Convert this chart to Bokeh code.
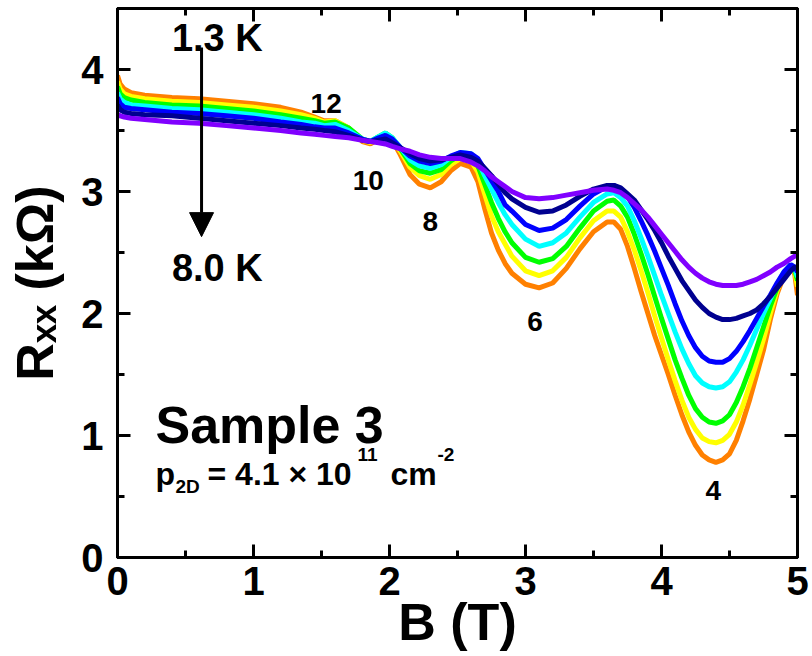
from bokeh.plotting import figure
from bokeh.models import Range1d, LinearAxis, SingleIntervalTicker, Label, Arrow, NormalHead
from bokeh.embed import file_html
from bokeh.resources import INLINE

# ---- data ----
B = [0, 0.02, 0.05, 0.1, 0.2, 0.4, 0.6, 0.8, 1.0, 1.2,
     1.35, 1.45, 1.52, 1.6, 1.7, 1.8, 1.86, 1.92, 1.97, 2.02,
     2.08, 2.15, 2.22, 2.3, 2.38, 2.45, 2.52, 2.6, 2.65, 2.7,
     2.75, 2.8, 2.85, 2.9, 3.0, 3.1, 3.2, 3.3, 3.4, 3.5,
     3.6, 3.65, 3.7, 3.75, 3.8, 3.85, 3.9, 3.95, 4.0, 4.05,
     4.1, 4.15, 4.2, 4.25, 4.3, 4.35, 4.4, 4.45, 4.5, 4.55,
     4.6, 4.65, 4.7, 4.75, 4.8, 4.85, 4.9, 4.95, 4.98, 5.0]

R_orange = [3.95, 3.88, 3.84, 3.81, 3.79, 3.77, 3.76, 3.74, 3.72, 3.69,
            3.65, 3.61, 3.58, 3.58, 3.52, 3.41, 3.39, 3.43, 3.46, 3.42,
            3.30, 3.14, 3.06, 3.03, 3.08, 3.17, 3.23, 3.20, 3.08, 2.86,
            2.66, 2.52, 2.41, 2.33, 2.24, 2.21, 2.25, 2.37, 2.53, 2.67,
            2.75, 2.75, 2.69, 2.55, 2.37, 2.18, 2.00, 1.82, 1.66, 1.50,
            1.33, 1.17, 1.03, 0.92, 0.84, 0.80, 0.78, 0.80, 0.85, 0.96,
            1.12, 1.30, 1.50, 1.70, 1.95, 2.16, 2.31, 2.40, 2.32, 2.15]

R_yellow = [3.90, 3.84, 3.80, 3.78, 3.76, 3.74, 3.73, 3.71, 3.69, 3.66,
            3.63, 3.60, 3.57, 3.58, 3.52, 3.42, 3.40, 3.44, 3.47, 3.43,
            3.33, 3.20, 3.13, 3.10, 3.14, 3.22, 3.27, 3.25, 3.16, 2.98,
            2.80, 2.67, 2.57, 2.47, 2.35, 2.31, 2.35, 2.46, 2.62, 2.76,
            2.84, 2.84, 2.79, 2.67, 2.52, 2.35, 2.17, 1.98, 1.80, 1.62,
            1.45, 1.29, 1.15, 1.05, 0.98, 0.95, 0.94, 0.96, 1.01, 1.11,
            1.25, 1.42, 1.60, 1.79, 2.00, 2.19, 2.32, 2.40, 2.34, 2.22]

R_green = [3.86, 3.80, 3.77, 3.75, 3.73, 3.71, 3.70, 3.68, 3.66, 3.63,
           3.60, 3.58, 3.56, 3.57, 3.52, 3.43, 3.41, 3.45, 3.48, 3.44,
           3.35, 3.23, 3.17, 3.15, 3.18, 3.25, 3.30, 3.28, 3.21, 3.06,
           2.91, 2.78, 2.67, 2.58, 2.46, 2.42, 2.45, 2.55, 2.70, 2.84,
           2.92, 2.93, 2.88, 2.79, 2.65, 2.49, 2.32, 2.14, 1.96, 1.79,
           1.62, 1.47, 1.33, 1.22, 1.15, 1.11, 1.10, 1.12, 1.17, 1.27,
           1.40, 1.55, 1.72, 1.89, 2.06, 2.21, 2.33, 2.40, 2.36, 2.27]

R_cyan = [3.81, 3.76, 3.73, 3.71, 3.70, 3.68, 3.67, 3.65, 3.63, 3.60,
          3.57, 3.56, 3.54, 3.55, 3.50, 3.43, 3.41, 3.45, 3.48, 3.44,
          3.36, 3.26, 3.21, 3.19, 3.22, 3.28, 3.32, 3.31, 3.25, 3.13,
          3.02, 2.91, 2.81, 2.73, 2.61, 2.55, 2.58, 2.66, 2.79, 2.91,
          2.98, 2.99, 2.95, 2.88, 2.76, 2.62, 2.47, 2.31, 2.15, 2.00,
          1.85, 1.71, 1.59, 1.49, 1.43, 1.40, 1.39, 1.40, 1.44, 1.52,
          1.62, 1.74, 1.87, 2.00, 2.12, 2.24, 2.34, 2.40, 2.37, 2.30]

R_blue = [3.77, 3.72, 3.69, 3.68, 3.67, 3.65, 3.64, 3.62, 3.60, 3.57,
          3.55, 3.53, 3.52, 3.52, 3.48, 3.43, 3.41, 3.44, 3.46, 3.43,
          3.36, 3.29, 3.25, 3.23, 3.25, 3.29, 3.32, 3.31, 3.27, 3.18,
          3.09, 3.00, 2.89, 2.84, 2.73, 2.68, 2.70, 2.77, 2.88, 2.98,
          3.04, 3.05, 3.02, 2.96, 2.87, 2.76, 2.64, 2.51, 2.37, 2.23,
          2.08, 1.94, 1.82, 1.72, 1.65, 1.61, 1.60, 1.60, 1.63, 1.69,
          1.77, 1.86, 1.96, 2.06, 2.15, 2.25, 2.34, 2.40, 2.38, 2.34]

R_navy = [3.71, 3.67, 3.65, 3.64, 3.63, 3.62, 3.60, 3.58, 3.56, 3.54,
          3.52, 3.51, 3.50, 3.49, 3.46, 3.42, 3.41, 3.42, 3.43, 3.40,
          3.36, 3.31, 3.27, 3.25, 3.26, 3.28, 3.30, 3.28, 3.25, 3.19,
          3.13, 3.06, 2.99, 2.94, 2.87, 2.83, 2.84, 2.89, 2.96, 3.02,
          3.05, 3.05, 3.03, 2.98, 2.93, 2.85, 2.77, 2.68, 2.58, 2.47,
          2.37, 2.27, 2.19, 2.11, 2.05, 2.00, 1.97, 1.95, 1.95, 1.96,
          1.98, 2.00, 2.03, 2.08, 2.14, 2.21, 2.28, 2.35, 2.38, 2.38]

R_purple = [3.63, 3.62, 3.61, 3.60, 3.59, 3.57, 3.56, 3.54, 3.52, 3.50,
            3.48, 3.47, 3.46, 3.45, 3.44, 3.42, 3.41, 3.40, 3.39, 3.37,
            3.35, 3.33, 3.30, 3.28, 3.27, 3.27, 3.27, 3.24, 3.21, 3.17,
            3.12, 3.08, 3.04, 3.00, 2.95, 2.94, 2.95, 2.97, 2.99, 3.01,
            3.02, 3.01, 2.99, 2.95, 2.90, 2.85, 2.79, 2.72, 2.65, 2.58,
            2.51, 2.44, 2.38, 2.33, 2.29, 2.26, 2.24, 2.23, 2.23, 2.23,
            2.24, 2.26, 2.28, 2.31, 2.34, 2.38, 2.41, 2.45, 2.47, 2.48]

curves = [R_orange, R_yellow, R_green, R_cyan, R_blue, R_navy, R_purple]
colors = ["#FF8000", "#FFFF00", "#00FF00", "#00FFFF", "#0000FF", "#000090", "#8000FF"]

filling_labels = ["12", "10", "8", "6", "4"]
filling_x = [1.42, 1.73, 2.30, 3.07, 4.38]
filling_y = [3.64, 3.01, 2.67, 1.85, 0.47]
filling_align = ["left", "left", "center", "center", "center"]

FONT = "Liberation Sans"

p = figure(width=812, height=656, x_range=Range1d(0, 5), y_range=Range1d(0, 4.5),
           output_backend="svg", toolbar_location=None,
           min_border_left=117, min_border_right=15, min_border_top=8, min_border_bottom=99)
p.grid.visible = False
p.outline_line_color = "black"
p.outline_line_width = 3
p.background_fill_color = "white"
p.border_fill_color = "white"

bottom = p.below[0]
left = p.left[0]
bottom.ticker = SingleIntervalTicker(interval=1, num_minor_ticks=2)
left.ticker = SingleIntervalTicker(interval=1, num_minor_ticks=2)
right = LinearAxis(ticker=SingleIntervalTicker(interval=1, num_minor_ticks=2))
top = LinearAxis(ticker=SingleIntervalTicker(interval=1, num_minor_ticks=2))
p.add_layout(right, "right")
p.add_layout(top, "above")

for ax in (bottom, left, right, top):
    ax.axis_line_width = 3
    ax.axis_line_color = "black"
    ax.major_tick_line_width = 3
    ax.minor_tick_line_width = 3
    ax.major_tick_in = 13
    ax.major_tick_out = 0
    ax.minor_tick_in = 7
    ax.minor_tick_out = 0
    ax.major_label_text_font = FONT
    ax.major_label_text_font_style = "bold"
    ax.major_label_text_font_size = "40px"
    ax.major_label_text_color = "black"
    ax.axis_label_text_font = FONT
    ax.axis_label_text_font_style = "bold"
    ax.axis_label_text_font_size = "52px"
    ax.axis_label_text_color = "black"

bottom.major_label_standoff = 9
bottom.axis_label = "B (T)"
bottom.axis_label_standoff = -5
left.major_label_standoff = 14
left.axis_label = "R\u2093\u2093 (k\u03a9)"
left.axis_label_standoff = 14

for ax in (right, top):
    ax.major_label_text_font_size = "1px"
    ax.major_label_text_color = None
    ax.major_label_standoff = 0

for R, c in zip(curves, colors):
    p.line(B, R, line_color=c, line_width=5)

def lab(x, y, text, size, lift, align="left"):
    p.add_layout(Label(x=x, y=y, text=text, text_font=FONT, text_font_style="bold",
                       text_font_size=size, text_align=align, text_baseline="alphabetic",
                       text_color="black", y_offset=lift))

for t, x, y, a in zip(filling_labels, filling_x, filling_y, filling_align):
    lab(x, y, t, "28px", 10, a)

lab(0.40, 4.146, "1.3 K", "38px", 14)
lab(0.40, 2.258, "8.0 K", "38px", 14)
p.add_layout(Arrow(end=NormalHead(size=24, fill_color="black", line_color="black"),
                   x_start=0.618, y_start=4.18, x_end=0.618, y_end=2.63,
                   line_width=3, line_color="black"))

lab(0.279, 0.944, "Sample 3", "52px", 17)
lab(0.279, 0.59, "p", "32px", 12)
lab(0.426, 0.51, "2D", "19px", 9)
lab(0.662, 0.59, "= 4.1 \u00d7 10", "32px", 12)
lab(1.765, 0.77, "11", "19px", 9)
lab(2.007, 0.59, "cm", "32px", 12)
lab(2.353, 0.77, "-2", "19px", 9)

open("out.html", "w").write(file_html(p, INLINE))
